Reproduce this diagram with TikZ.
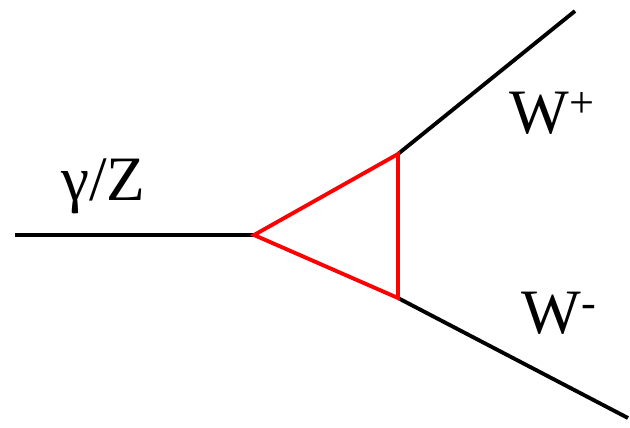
\documentclass[tikz,border=0pt]{standalone}
\usepackage{fontspec}
\setmainfont{Liberation Serif}
\usepackage{xcolor}
\definecolor{loopred}{HTML}{FF0000}

\begin{document}
\begin{tikzpicture}[
        x=0.02cm, y=-0.02cm,
        boson/.style={draw=black, line width=2.2pt},
        loop/.style={draw=loopred, line width=2.2pt, line join=miter},
        lbl/.style={anchor=base west, inner sep=0pt, font=\fontsize{36}{42}\selectfont},
      ]

      \useasboundingbox (0,0) rectangle (630,427);

      % Vertices
      \coordinate (in) at (15,235);
      \coordinate (va) at (254,235);
      \coordinate (vb) at (398,154);
      \coordinate (vc) at (398,298);
      \coordinate (wp) at (575,11);
      \coordinate (wm) at (628,418);

      % External lines
      \draw[boson] (in) -- (va);
      \draw[boson] (vb) -- (wp);
      \draw[boson] (vc) -- (wm);

      % Triangle loop
      \draw[loop] (va) -- (vb) -- (vc) -- cycle;

      % Labels
      \node[lbl] (gz) at (61,200) {γ/Z};
      \node[lbl] (wplus) at (509,133) {W\textsuperscript{+}};
      \node[lbl] (wminus) at (521,333) {W\textsuperscript{-}};

      \end{tikzpicture}
\end{document}
